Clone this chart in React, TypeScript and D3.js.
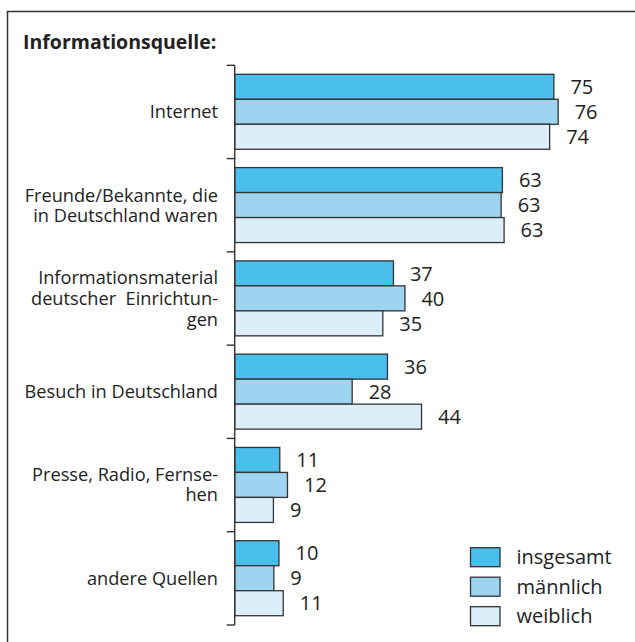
import React from 'react';
import * as d3 from 'd3';

// Informationsquelle, Angaben in Prozent
const categories = [
  ['Internet'],
  ['Freunde/Bekannte, die', 'in Deutschland waren'],
  ['Informationsmaterial', 'deutscher  Einrichtun-', 'gen'],
  ['Besuch in Deutschland'],
  ['Presse, Radio, Fernse-', 'hen'],
  ['andere Quellen'],
];
const seriesNames = ['insgesamt', 'männlich', 'weiblich'];
const insgesamt = [75, 62.9, 37.3, 35.9, 10.6, 10.4];
const maennlich = [76, 62.6, 40, 27.6, 12.4, 9.2];
const weiblich = [74, 63.3, 34.8, 43.9, 9.1, 11.4];
const labelsInsgesamt = ['75', '63', '37', '36', '11', '10'];
const labelsMaennlich = ['76', '63', '40', '28', '12', '9'];
const labelsWeiblich = ['74', '63', '35', '44', '9', '11'];
const colors = ['#4bbfec', '#9dd5f1', '#dceefa'];

const W = 635;
const H = 642;
const FONT = "'Open Sans', sans-serif";

export default function App() {
  const axisX = 234.7;
  const top = 65.3;
  const bottom = 625;

  const x = d3.scaleLinear().domain([0, 100]).range([axisX, axisX + 425.6]);
  const idx = categories.map((_, i) => i);
  const y = d3.scaleBand<number>().domain(idx).range([top, bottom]).paddingInner(0);
  const step = y.bandwidth();
  const inner = d3
    .scaleBand<number>()
    .domain([0, 1, 2])
    .range([9, step - 9.3]);

  const series = [insgesamt, maennlich, weiblich];
  const labels = [labelsInsgesamt, labelsMaennlich, labelsWeiblich];
  const boundaries = d3.range(categories.length + 1).map((i) => top + i * step);

  return (
    <svg
      width={W}
      height={H}
      style={{ position: 'absolute', left: 0, top: 0, background: '#fff' }}
      fontFamily={FONT}
    >
      <rect x={7.5} y={11.5} width={W} height={H} fill="#fff" stroke="#333" strokeWidth={1.5} />
      <text x={23} y={49} fontSize={19.5} fontWeight="bold" fill="#222">
        Informationsquelle:
      </text>

      {idx.map((i) => {
        const lines = categories[i];
        const cy = (y(i) as number) + step / 2;
        const lh = lines.length > 2 ? 21 : 20;
        return (
          <text key={'c' + i} textAnchor="end" fontSize={18.2} fill="#222">
            {lines.map((ln, k) => (
              <tspan
                key={k}
                x={218}
                y={cy + (k - (lines.length - 1) / 2) * lh}
                dy="0.35em"
                style={{ whiteSpace: 'pre' }}
              >
                {ln}
              </tspan>
            ))}
          </text>
        );
      })}

      {idx.map((i) =>
        series.map((s, j) => {
          const by = (y(i) as number) + (inner(j) as number);
          const bh = inner.bandwidth();
          return (
            <g key={'b' + i + '-' + j}>
              <rect
                x={x(0)}
                y={by}
                width={x(s[i]) - x(0)}
                height={bh}
                fill={colors[j]}
                stroke="#333"
                strokeWidth={1.3}
              />
              <text
                x={x(s[i]) + 16.5}
                y={by + bh / 2}
                dy="0.36em"
                fontSize={20}
                fill="#222"
              >
                {labels[j][i]}
              </text>
            </g>
          );
        })
      )}

      <line x1={axisX} x2={axisX} y1={top} y2={bottom} stroke="#333" strokeWidth={1.4} />
      {boundaries.map((b, i) => (
        <line key={'t' + i} x1={axisX - 8} x2={axisX} y1={b} y2={b} stroke="#333" strokeWidth={1.4} />
      ))}

      {seriesNames.map((n, j) => {
        const ly = 547.7 + j * 29.5;
        return (
          <g key={'l' + j}>
            <rect x={470.5} y={ly} width={29.5} height={19} fill={colors[j]} stroke="#333" strokeWidth={1.3} />
            <text x={516.5} y={ly + 9.5} dy="0.35em" fontSize={20} fill="#222">
              {n}
            </text>
          </g>
        );
      })}
    </svg>
  );
}
